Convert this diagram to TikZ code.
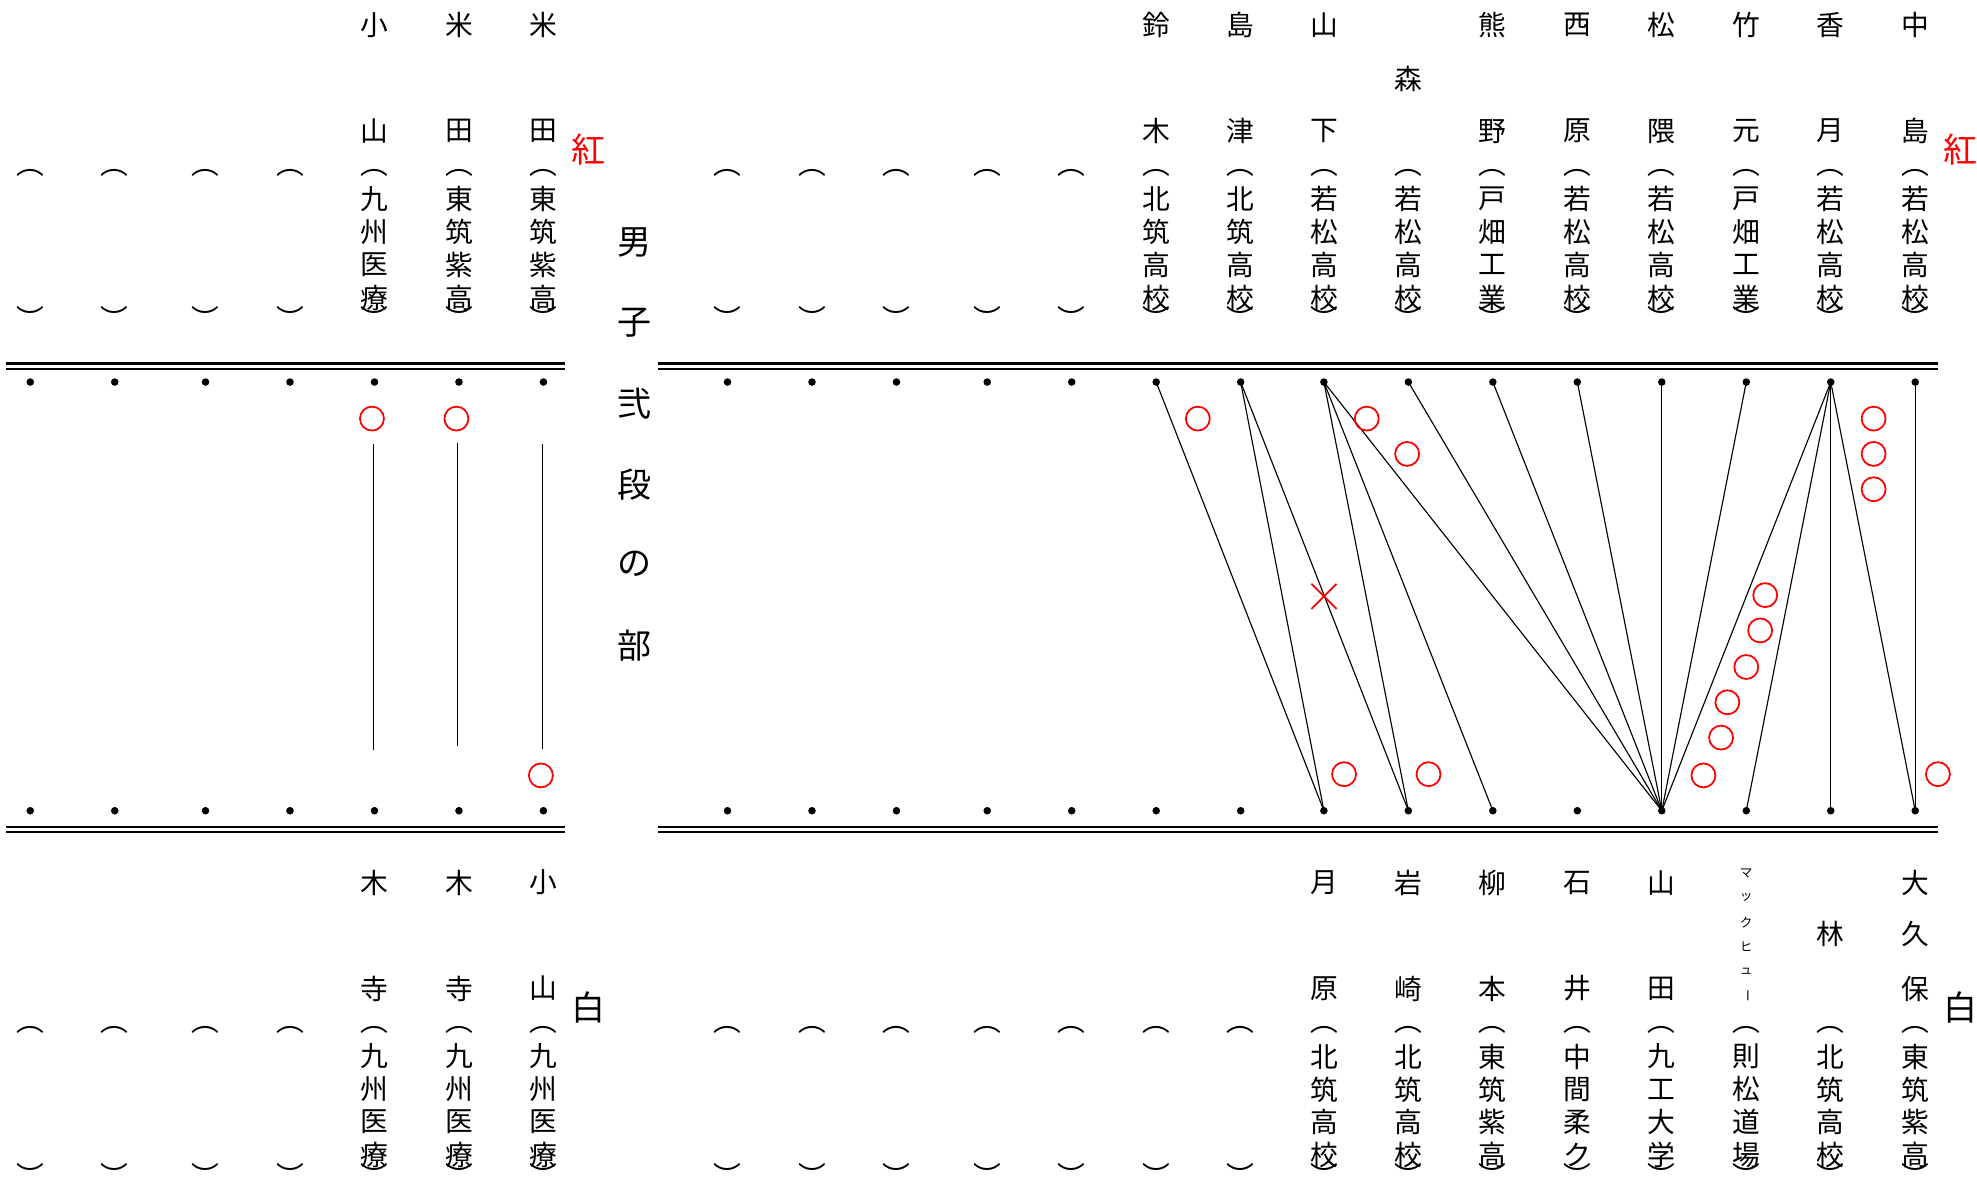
\documentclass[tikz,border=0pt]{standalone}
\usepackage{fontspec}
\setmainfont{Noto Sans CJK JP}
\newfontfamily\cjk{Noto Sans CJK JP}
% vertical school name in brackets: node name, x, y offset, four characters
\newcommand\vsch[7]{%
  \node[ch] (#1o) at (#2,{137+#3}) {︵};
  \node[ch] (#1p) at (#2,{158+#3}) {#4};
  \node[ch] (#1q) at (#2,{184+#3}) {#5};
  \node[ch] (#1r) at (#2,{210+#3}) {#6};
  \node[ch] (#1s) at (#2,{236+#3}) {#7};
  \node[ch] (#1c) at (#2,{252+#3}) {︶};}
\newcommand\vemp[3]{%
  \node[ch] (#1o) at (#2,{137+#3}) {︵};
  \node[ch] (#1c) at (#2,{252+#3}) {︶};}
% top column: x, name1, name2, school chars
\newcommand\tcol[7]{%
  \node[ch] (tn#1a) at (#1,20) {#2};
  \node[ch] (tn#1b) at (#1,104) {#3};
  \vsch{ts#1}{#1}{0}{#4}{#5}{#6}{#7}}
\newcommand\bcol[7]{%
  \node[ch] (bn#1a) at (#1,700) {#2};
  \node[ch] (bn#1b) at (#1,784) {#3};
  \vsch{bs#1}{#1}{680}{#4}{#5}{#6}{#7}}
\begin{document}
\begin{tikzpicture}[x=1pt,y=-1pt,
  ch/.style={font=\cjk\fontsize{22}{22}\selectfont, inner sep=0pt},
  big/.style={font=\cjk\fontsize{27}{27}\selectfont, inner sep=0pt},
  tinych/.style={font=\cjk\fontsize{10}{10}\selectfont, inner sep=0pt},
  dot/.style={circle, fill=black, inner sep=0pt, minimum size=6pt},
  conn/.style={line width=0.9pt},
  rulel/.style={line width=2pt},
  win/.style={circle, draw=red, line width=1.4pt, inner sep=0pt, minimum size=19pt},
  loss/.style={red, line width=1.4pt}]
\useasboundingbox (0,0) rectangle (1568,934);
% double rules
\foreach \y in {288.5,292.5,656,660} {
  \draw[rulel] (5,\y) -- (448,\y);
  \draw[rulel] (522,\y) -- (1537,\y);
}
% dots
\foreach \x [count=\i] in {24,91,163,230,297,364,431} {
  \node[dot] (lt\i) at (\x,303) {};
  \node[dot] (lb\i) at (\x,643) {};
}
\foreach \x [count=\i] in {577,644,711,783,850,917,984,1050,1117,1184,1251,1318,1385,1452,1519} {
  \node[dot] (rt\i) at (\x,303) {};
  \node[dot] (rb\i) at (\x,643) {};
}
% connectors
\foreach \a/\b in {6/8,7/8,7/9,8/9,8/10,8/12,9/12,10/12,11/12,12/12,13/12,14/12,14/13,14/14,14/15,15/15}
  \draw[conn] (rt\a.center) -- (rb\b.center);
% left result lines
\draw[conn] (296,352) -- (296,595);
\draw[conn] (363,351) -- (363,592);
\draw[conn] (430,352) -- (430,594);
% circles
\foreach \x/\y [count=\i] in {295/332,362/332,429/615,950/332,1084/332,1116/360,1486/332,1486/360,1486/388,1400/472,1396/500,1385/529,1370/557,1365/585,1351/615,1066/614,1133/614,1537/614}
  \node[win] (w\i) at (\x,\y) {};
\draw[loss] (1040,463) -- (1060,483) (1040,483) -- (1060,463);
% title
\node[big] (t1) at (503,192) {男};
\node[big] (t2) at (503,256) {子};
\node[big] (t3) at (503,320) {弐};
\node[big] (t4) at (503,384) {段};
\node[big] (t5) at (503,447) {の};
\node[big] (t6) at (503,512) {部};
\node[big, text=red] (kurol) at (467,119) {紅};
\node[big, text=red] (kuror) at (1555,119) {紅};
\node[big] (shirol) at (467,799) {白};
\node[big] (shiror) at (1555,799) {白};
% ---------- top labels ----------
\vemp{te1}{24}{0} \vemp{te2}{91}{0} \vemp{te3}{163}{0} \vemp{te4}{230}{0}
\vemp{te5}{577}{0} \vemp{te6}{644}{0} \vemp{te7}{711}{0} \vemp{te8}{783}{0} \vemp{te9}{850}{0}
\tcol{297}{小}{山}{九}{州}{医}{療}
\tcol{364}{米}{田}{東}{筑}{紫}{高}
\tcol{431}{米}{田}{東}{筑}{紫}{高}
\tcol{917}{鈴}{木}{北}{筑}{高}{校}
\tcol{984}{島}{津}{北}{筑}{高}{校}
\tcol{1050}{山}{下}{若}{松}{高}{校}
\node[ch] (tn1117) at (1117,63) {森};
\vsch{ts1117}{1117}{0}{若}{松}{高}{校}
\tcol{1184}{熊}{野}{戸}{畑}{工}{業}
\tcol{1251}{西}{原}{若}{松}{高}{校}
\tcol{1318}{松}{隈}{若}{松}{高}{校}
\tcol{1385}{竹}{元}{戸}{畑}{工}{業}
\tcol{1452}{香}{月}{若}{松}{高}{校}
\tcol{1519}{中}{島}{若}{松}{高}{校}
% ---------- bottom labels ----------
\vemp{be1}{24}{680} \vemp{be2}{91}{680} \vemp{be3}{163}{680} \vemp{be4}{230}{680}
\vemp{be5}{577}{680} \vemp{be6}{644}{680} \vemp{be7}{711}{680} \vemp{be8}{783}{680}
\vemp{be9}{850}{680} \vemp{be10}{917}{680} \vemp{be11}{984}{680}
\bcol{297}{木}{寺}{九}{州}{医}{療}
\bcol{364}{木}{寺}{九}{州}{医}{療}
\bcol{431}{小}{山}{九}{州}{医}{療}
\bcol{1050}{月}{原}{北}{筑}{高}{校}
\bcol{1117}{岩}{崎}{北}{筑}{高}{校}
\bcol{1184}{柳}{本}{東}{筑}{紫}{高}
\bcol{1251}{石}{井}{中}{間}{柔}{ク}
\bcol{1318}{山}{田}{九}{工}{大}{学}
\node[tinych] (mk1) at (1385,693) {マ};
\node[tinych] (mk2) at (1385,712) {ッ};
\node[tinych] (mk3) at (1385,732) {ク};
\node[tinych] (mk4) at (1385,751) {ヒ};
\node[tinych] (mk5) at (1385,770) {ュ};
\node[tinych, rotate=-90] (mk6) at (1385,790) {ー};
\vsch{bs1385}{1385}{680}{則}{松}{道}{場}
\node[ch] (bn1452) at (1452,741) {林};
\vsch{bs1452}{1452}{680}{北}{筑}{高}{校}
\node[ch] (bn1519a) at (1519,700) {大};
\node[ch] (bn1519b) at (1519,741) {久};
\node[ch] (bn1519c) at (1519,784) {保};
\vsch{bs1519}{1519}{680}{東}{筑}{紫}{高}
\end{tikzpicture}
\end{document}
